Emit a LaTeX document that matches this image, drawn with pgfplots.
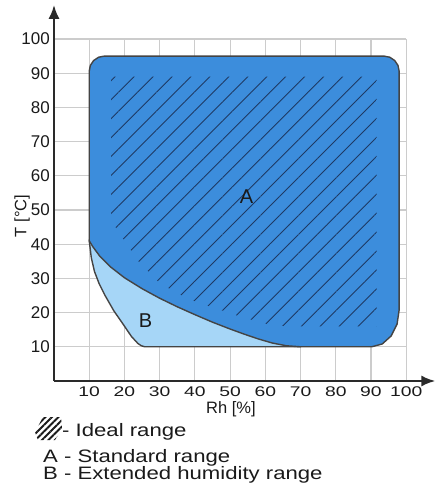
\documentclass[border=0pt]{standalone}
\usepackage{fontspec}
\setmainfont{Liberation Sans}
\newfontfamily\widefont[FakeStretch=1.38]{Liberation Sans}
\newfontfamily\legfont[FakeStretch=1.23]{Liberation Sans}
\usepackage{pgfplots}
\pgfplotsset{compat=1.18}
\usetikzlibrary{patterns.meta,arrows.meta}

\definecolor{areaA}{HTML}{3C8DDC}
\definecolor{areaB}{HTML}{A6D6F7}
\definecolor{edge}{HTML}{444444}
\definecolor{hatchc}{HTML}{1E3A64}
\definecolor{gridgray}{HTML}{CCCCCC}
\definecolor{axisgray}{HTML}{2A2A2A}
\definecolor{txt}{HTML}{1A1A1A}

\begin{document}
\begin{tikzpicture}
\useasboundingbox (-54bp,-114bp) rectangle (381bp,381bp);
\begin{axis}[
    at={(0,0)}, anchor=origin,
    x=3.522bp, y=3.42bp,
    xmin=0, xmax=100, ymin=0, ymax=100,
    clip=false,
    axis lines=left,
    axis line style={draw=none},
    xtick={10,20,...,100}, ytick={10,20,...,100},
    major tick length=0pt,
    tick style={draw=none},
    grid=major,
    grid style={draw=gridgray, line width=1.1bp},
    /pgf/number format/assume math mode=true,
    xticklabel style={font=\widefont\fontsize{14bp}{16bp}\selectfont, text=txt,
        anchor=base, inner sep=0pt, yshift=-15.5bp},
    yticklabel style={font=\fontsize{17bp}{19bp}\selectfont, text=txt,
        anchor=east, inner sep=0pt, xshift=-4bp},
  ]

  % B - extended humidity range (upper part hidden under A)
  \addplot[fill=areaB, draw=edge, line width=1.4bp] coordinates {
    (12,48) (10,41) (10.6,36) (11.5,32) (12.8,28.5) (14.5,25) (17,20.5)
    (19.5,16.8) (22,13) (23.8,11) (24.8,10.3) (25.8,10) (70,10) (70,14) (50,20)
    (30,30) (18,38) (12,48)
  };

  % A - standard range
  \addplot[fill=areaA, draw=edge, line width=1.4bp] coordinates {
    (10,70) (10,90.6) (10.33,92.28) (11.26,93.71) (12.65,94.67) (14.3,95)
    (93.7,95) (95.35,94.67) (96.74,93.71) (97.67,92.28) (98,90.6)
    (98,20.8) (97.41,16.66) (95.72,13.16) (93.19,10.82) (90.2,10)
    (70,10) (66,10.3) (62,11.1) (58,12.3) (54,13.7) (50,15.2) (45,17.2)
    (40,19.4) (35,21.7) (30,24.2) (25,27) (20,30.2) (16,33.4) (13,36.5)
    (11,39.3) (10,41) (10,70)
  };

  % ideal range (hatched)
  \addplot[draw=none, pattern={Lines[angle=45,distance=13.4bp,line width=0.9bp]},
    pattern color=hatchc] coordinates {
    (16.2,89) (91.6,89) (91.6,16) (66,16) (61,16.5) (53,18.8) (45,21.5)
    (38,24) (30,28.6) (24,35) (20,41) (16.2,47) (16.2,89)
  };

  % axis arrows
  \draw[draw=axisgray, line width=2.4bp, -{Latex[length=14bp,width=11bp]}]
    (axis cs:0,0) -- (axis cs:108.3,0);
  \draw[draw=axisgray, line width=2.4bp, -{Latex[length=14bp,width=11bp]}]
    (axis cs:0,0) -- (axis cs:0,110);

  \node[text=txt, font=\fontsize{20bp}{22bp}\selectfont] at (axis cs:54.7,53.9) {A};
  \node[text=txt, font=\fontsize{20bp}{22bp}\selectfont] at (axis cs:26,17.7) {B};
\end{axis}

% axis titles
\node[text=txt, anchor=base, font=\fontsize{16.5bp}{18bp}\selectfont] at (177bp,-32bp) {Rh [\%]};
\node[text=txt, rotate=90, font=\fontsize{16.5bp}{18bp}\selectfont] at (-32bp,165bp) {T [°C]};

% legend
\fill[pattern={Lines[angle=45,distance=4.6bp,line width=1.9bp]}, pattern color=txt]
  (-19bp,-51bp) -- (-11bp,-36bp) -- (7bp,-36bp) -- (8bp,-48bp) -- (1bp,-59bp) -- (-16bp,-59bp) -- cycle;
\node[text=txt, anchor=base west, inner sep=0pt, font=\legfont\fontsize{18bp}{20bp}\selectfont]
  at (8bp,-55bp) {- Ideal range};
\node[text=txt, anchor=base west, inner sep=0pt, font=\legfont\fontsize{18bp}{20bp}\selectfont]
  at (-11bp,-81.7bp) {A - Standard range};
\node[text=txt, anchor=base west, inner sep=0pt, font=\legfont\fontsize{18bp}{20bp}\selectfont]
  at (-11bp,-98bp) {B - Extended humidity range};
\end{tikzpicture}
\end{document}
